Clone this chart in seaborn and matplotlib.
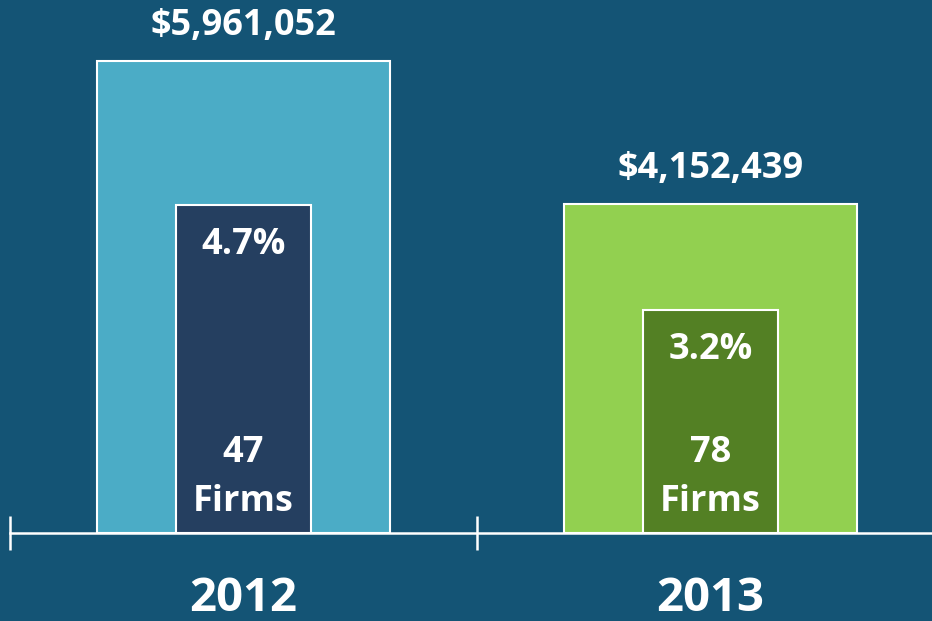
import matplotlib
matplotlib.use("Agg")
import matplotlib.pyplot as plt
import seaborn as sns
import pandas as pd

# Chart data
years = ["2012", "2013"]
fines = [5961052, 4152439]
fine_labels = ["$5,961,052", "$4,152,439"]
pct_firms = [4.7, 3.2]
pct_labels = ["4.7%", "3.2%"]
firm_counts = [47, 78]

outer_colors = ["#4BACC6", "#92D050"]
inner_colors = ["#253F60", "#538024"]
bg = "#145475"

sns.set_theme(style="white")
plt.rcParams["font.family"] = ["Open Sans", "DejaVu Sans"]
plt.rcParams["font.weight"] = "bold"

df = pd.DataFrame({"year": years, "fine": fines, "pct": pct_firms})

fig = plt.figure(figsize=(9.32, 6.21), dpi=100, facecolor=bg)
ax = fig.add_axes([10 / 932, 88 / 621, 934 / 932, 533 / 621])
ax.set_facecolor(bg)

# Outer bars: total dollar amount
sns.barplot(data=df, x="year", y="fine", hue="year", palette=outer_colors,
            dodge=False, width=0.627, saturation=1, edgecolor="white",
            linewidth=1.5, legend=False, ax=ax)
ax.set_ylim(0, 5961052 * 533 / 472)

# Inner bars: share of firms, on its own scale
ax2 = ax.twinx()
sns.barplot(data=df, x="year", y="pct", hue="year", palette=inner_colors,
            dodge=False, width=0.287, saturation=1, edgecolor="white",
            linewidth=1.5, legend=False, ax=ax2)
ax2.set_ylim(0, 4.7 * 533 / 328)

ax.set_xlim(-0.5, 1.5)
for a in (ax, ax2):
    a.set_xlabel("")
    a.set_ylabel("")
    a.set_yticks([])
    for s in ["top", "left", "right"]:
        a.spines[s].set_visible(False)
ax2.spines["bottom"].set_visible(False)
ax.spines["bottom"].set_color("white")
ax.spines["bottom"].set_linewidth(1.8)

ax.set_xticks([0, 1])
ax.set_xticklabels(years, fontsize=34, fontweight="bold", color="white")
ax.tick_params(axis="x", which="major", bottom=True, length=0, pad=30)
ax.set_xticks([-0.5, 0.5, 1.5], minor=True)
ax.tick_params(axis="x", which="minor", bottom=True, direction="inout",
               length=24, width=1.8, color="white")

txt = dict(color="white", fontsize=26, fontweight="bold", ha="center",
           va="center", textcoords="offset points")
for i in range(len(years)):
    ax.annotate(fine_labels[i], xy=(i, fines[i]), xytext=(0, 25), **txt)
    ax2.annotate(pct_labels[i], xy=(i, pct_firms[i]), xytext=(0, -29), **txt)
    ax2.annotate(f"{firm_counts[i]}\nFirms", xy=(i, 0), xytext=(0, 40),
                 linespacing=1.45, **txt)

fig.savefig("out.png", dpi=100, facecolor=bg)
